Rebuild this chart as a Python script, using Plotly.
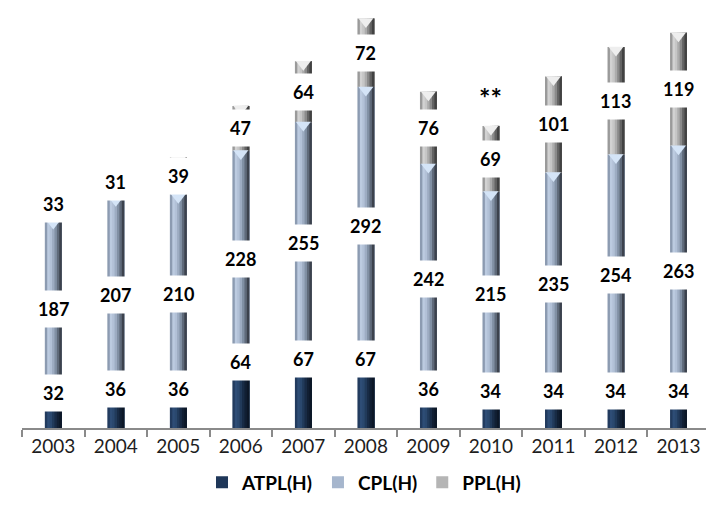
import plotly.graph_objects as go

# Pilot licences issued per year, by licence type
years = ["2003", "2004", "2005", "2006", "2007", "2008",
         "2009", "2010", "2011", "2012", "2013"]
atpl = [32, 36, 36, 64, 67, 67, 36, 34, 34, 34, 34]
cpl = [187, 207, 210, 228, 255, 292, 242, 215, 235, 254, 263]
ppl = [33, 31, 39, 47, 64, 72, 76, 69, 101, 113, 119]
note_year = "2010"
note_text = "**"

# cylinder-like shading: left-to-right strips of each column
shades = {
    "ATPL(H)": ["#223b5e", "#2e4d76", "#2a486e", "#213a5a", "#182b45", "#111f33", "#0c1727"],
    "CPL(H)": ["#8c9bb1", "#bccbe0", "#b2c1d7", "#9dacc2", "#8190a4", "#5f6a7a", "#3c424d"],
    "PPL(H)": ["#9a9a9a", "#d2d2d2", "#c6c6c6", "#acacac", "#8a8a8a", "#636363", "#424242"],
}
legend_colors = {"ATPL(H)": "#1f3759", "CPL(H)": "#a6b6cd", "PPL(H)": "#b5b5b5"}
cap_colors = {"ATPL(H)": None, "CPL(H)": "#d4e4f7", "PPL(H)": "#eeeeee"}

series = [("ATPL(H)", atpl), ("CPL(H)", cpl), ("PPL(H)", ppl)]

bar_w = 0.27
fig = go.Figure()

bases = [0] * len(years)
segments = []
for name, vals in series:
    cols = shades[name]
    n = len(cols)
    step = bar_w / n
    for k, c in enumerate(cols):
        # each strip runs to the right edge so neighbours never leave a seam
        fig.add_trace(go.Bar(
            x=years, y=vals, base=bases,
            width=bar_w - k * step, offset=-bar_w / 2 + k * step,
            marker=dict(color=c, line=dict(width=0)),
            name=name, legendgroup=name,
            showlegend=False, hoverinfo="skip",
        ))
    # legend entry
    fig.add_trace(go.Bar(
        x=[None], y=[None], name=name, legendgroup=name,
        marker=dict(color=legend_colors[name], line=dict(width=0)),
        showlegend=True,
    ))
    tops = [b + v for b, v in zip(bases, vals)]
    segments.append((name, vals, list(bases), tops))
    bases = tops

# bevel caps on segment tops
px_per_unit = 418 / 440
for name, vals, lo, hi in segments:
    cap = cap_colors[name]
    if cap is None:
        continue
    fig.add_trace(go.Scatter(
        x=years, y=[t - 3 / px_per_unit for t in hi], mode="markers",
        marker=dict(symbol="triangle-down", size=13, color=cap, line=dict(width=0)),
        showlegend=False, hoverinfo="skip",
    ))

# value labels; category axes place annotations by category index
label_font = dict(family="Lato", size=18, color="#000000", weight="bold")
for name, vals, lo, hi in segments:
    for i, (v, b, t) in enumerate(zip(vals, lo, hi)):
        if name == "ATPL(H)":
            ypos, shift = t, 5
        else:
            ypos, shift = (b + t) / 2, 0
        fig.add_annotation(
            x=i, y=ypos, xref="x", yref="y", text=str(v), showarrow=False,
            yshift=shift, font=label_font, bgcolor="#ffffff", borderpad=7,
        )

totals = segments[-1][3]
ni = years.index(note_year)
fig.add_annotation(
    x=ni, y=totals[ni], xref="x", yref="y",
    text=note_text, showarrow=False, yanchor="bottom", yshift=10,
    font=dict(family="Lato", size=27, color="#000000", weight="bold"),
)

fig.update_layout(
    width=706, height=518,
    margin=dict(l=22, r=0, t=10, b=90),
    paper_bgcolor="#ffffff", plot_bgcolor="#ffffff",
    barmode="overlay",
    showlegend=True,
    legend=dict(
        orientation="h", x=0.5, xanchor="center", y=-0.13, yanchor="middle",
        font=dict(family="Lato", size=19, color="#000000", weight="bold"),
        traceorder="normal", itemsizing="constant",
    ),
    xaxis=dict(
        type="category", range=[-0.5, 10.44],
        showline=True, linecolor="#8a8a8a", linewidth=2,
        ticks="outside", tickson="boundaries", ticklen=7, tickcolor="#8a8a8a", tickwidth=2,
        tickfont=dict(family="Lato", size=19, color="#1e1e1e"),
        showgrid=False, zeroline=False, fixedrange=True,
    ),
    yaxis=dict(range=[0, 440], showticklabels=False, ticks="", showline=False,
               showgrid=False, zeroline=False),
)

fig.write_html("out.html")
